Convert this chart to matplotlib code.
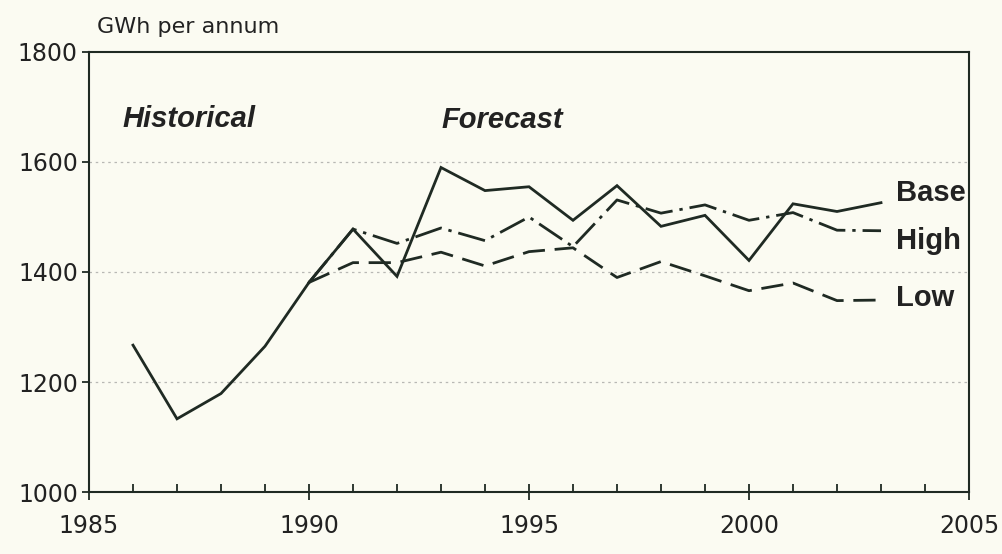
"""Electricity demand chart: historical and forecast scenarios (GWh per annum)."""

import matplotlib.pyplot as plt
import matplotlib.ticker as mticker

# Historical demand
hist_years = [1986, 1987, 1988, 1989, 1990]
hist_values = [1267, 1133, 1179, 1265, 1381]

# Forecast scenarios
fc_years = [1990, 1991, 1992, 1993, 1994, 1995, 1996, 1997,
            1998, 1999, 2000, 2001, 2002, 2003]
base_values = [1381, 1478, 1392, 1590, 1548, 1555, 1494, 1557,
               1483, 1503, 1421, 1524, 1510, 1526]
high_values = [1381, 1478, 1452, 1480, 1457, 1500, 1446, 1531,
               1507, 1522, 1494, 1508, 1476, 1475]
low_values = [1381, 1417, 1417, 1436, 1411, 1437, 1444, 1390,
              1419, 1393, 1366, 1380, 1348, 1349]

series_labels = ["Base", "High", "Low"]
label_y = [1543, 1457, 1353]

BG = "#fbfbf2"
INK = "#1f2a23"
TEXT = "#222222"

fig = plt.figure(figsize=(10.03, 5.54), dpi=100, facecolor=BG)
ax = fig.add_axes([89 / 1003, 1 - 492 / 554, 880 / 1003, 440 / 554])
ax.set_facecolor(BG)

ax.set_xlim(1985, 2005)
ax.set_ylim(1000, 1800)

# faint broken gridlines
for gy in (1200, 1400, 1600):
    ax.axhline(gy, color="#777777", linewidth=0.9, linestyle=(0, (2, 3)), alpha=0.5, zorder=1)

lw = 2.0
ax.plot(hist_years, hist_values, color=INK, linewidth=lw, solid_joinstyle="miter", zorder=3)
ax.plot(fc_years, base_values, color=INK, linewidth=lw, solid_joinstyle="miter", zorder=3)
ax.plot(fc_years, high_values, color=INK, linewidth=lw, linestyle=(0, (10, 2.5, 1.2, 2.5)), zorder=3)
ax.plot(fc_years, low_values, color=INK, linewidth=lw, linestyle=(0, (8, 3.5)), zorder=3)

for name, yv in zip(series_labels, label_y):
    ax.text(2003.35, yv, name, fontsize=21, fontweight="bold", family="Liberation Sans",
            color=TEXT, ha="left", va="center")

ax.text(1985.75, 1678, "Historical", fontsize=21, fontweight="bold", fontstyle="italic",
        family="Liberation Sans", color=TEXT, ha="left", va="center")
ax.text(1993.0, 1677, "Forecast", fontsize=21, fontweight="bold", fontstyle="italic",
        family="Liberation Sans", color=TEXT, ha="left", va="center")

fig.text(97 / 1003, 1 - 33 / 554, "GWh per annum", fontsize=16, color=TEXT,
         ha="left", va="baseline")

# axes styling
for sp in ax.spines.values():
    sp.set_color(INK)
    sp.set_linewidth(1.5)

ax.xaxis.set_major_locator(mticker.MultipleLocator(5))
ax.xaxis.set_minor_locator(mticker.MultipleLocator(1))
ax.yaxis.set_major_locator(mticker.MultipleLocator(200))

ax.tick_params(axis="x", which="major", direction="inout", length=12, width=1.3,
               color=INK, pad=10, labelsize=17, labelcolor=TEXT)
ax.tick_params(axis="x", which="minor", direction="in", length=6, width=1.3, color=INK)
ax.tick_params(axis="y", which="major", direction="out", length=5, width=1.3,
               color=INK, pad=3, labelsize=17, labelcolor=TEXT)

fig.savefig("out.png", dpi=100, facecolor=BG)
plt.close(fig)
